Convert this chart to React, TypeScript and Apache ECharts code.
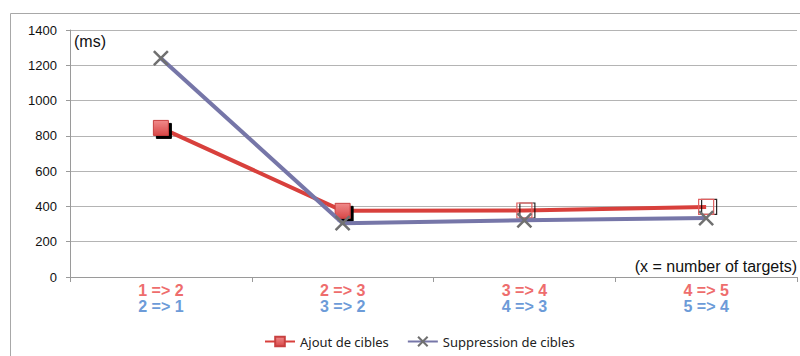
import React, { useEffect, useRef } from "react";
import * as echarts from "echarts";

const addTransitions = ["1 => 2", "2 => 3", "3 => 4", "4 => 5"];
const removeTransitions = ["2 => 1", "3 => 2", "4 => 3", "5 => 4"];
const ajoutValues = [845, 375, 377, 397];
const suppressionValues = [1240, 305, 321, 334];
const yTicks = [0, 200, 400, 600, 800, 1000, 1200, 1400];
const seriesNames = ["Ajout de cibles", "Suppression de cibles"];

const FONT = "'Liberation Sans', Arial, sans-serif";

export default function App() {
  const ref = useRef<HTMLDivElement>(null);
  useEffect(() => {
    const chart = echarts.init(ref.current!, null, { renderer: "svg" });
    const redFill = new echarts.graphic.LinearGradient(0, 0, 0, 1, [
      { offset: 0, color: "#F08A8A" },
      { offset: 1, color: "#D84848" },
    ]);
    chart.setOption({
      animation: false,
      backgroundColor: "#ffffff",
      textStyle: { fontFamily: FONT },
      grid: { left: 70, right: 3, top: 30, bottom: 79, containLabel: false },
      legend: {
        left: 259,
        top: 330,
        itemWidth: 30,
        itemHeight: 12,
        itemGap: 18,
        textStyle: { fontSize: 13, color: "#222", fontFamily: "'Noto Sans', Arial, sans-serif" },
        data: seriesNames,
      },
      xAxis: {
        type: "category",
        data: addTransitions.map((a, i) => a + "|" + removeTransitions[i]),
        boundaryGap: true,
        axisLine: { lineStyle: { color: "#9A9A9A", width: 1 } },
        axisTick: { show: true, length: 5, lineStyle: { color: "#9A9A9A" } },
        axisLabel: {
          margin: 5,
          interval: 0,
          formatter: (v: string) => {
            const [a, b] = v.split("|");
            return "{a|" + a + "}\n{b|" + b + "}";
          },
          rich: {
            a: { color: "#EE6D6D", fontSize: 16, fontWeight: "bold", lineHeight: 16, fontFamily: FONT },
            b: { color: "#6C9BD8", fontSize: 16, fontWeight: "bold", lineHeight: 16, fontFamily: FONT },
          },
        },
        splitLine: { show: false },
      },
      yAxis: {
        type: "value",
        min: yTicks[0],
        max: yTicks[yTicks.length - 1],
        interval: 200,
        axisLine: { show: true, lineStyle: { color: "#9A9A9A" } },
        axisTick: { show: true, length: 4, lineStyle: { color: "#9A9A9A" } },
        axisLabel: {
          color: "#111",
          fontSize: 13,
          margin: 13,
          fontFamily: FONT,
          formatter: (v: number) => String(v),
        },
        splitLine: { lineStyle: { color: "#B4B4B4", width: 1 } },
      },
      graphic: [
        {
          type: "rect",
          shape: { x: 10.5, y: 13.5, width: 800, height: 400 },
          style: { fill: "none", stroke: "#A8A8A8", lineWidth: 1 },
          silent: true,
          z: -1,
        },
        {
          type: "text",
          left: 74,
          top: 33,
          style: { text: "(ms)", fontSize: 16, fill: "#111", fontFamily: FONT },
        },
        {
          type: "text",
          right: 3,
          top: 258,
          style: { text: "(x = number of targets)", fontSize: 16, fill: "#111", fontFamily: FONT },
        },
      ],
      series: [
        {
          name: seriesNames[1],
          type: "line",
          data: suppressionValues,
          symbol: "path://M0,0L10,10M10,0L0,10",
          symbolSize: 14,
          z: 3,
          lineStyle: { color: "#7676A8", width: 4 },
          itemStyle: {
            color: "#7676A8",
            borderColor: "#707070",
            borderWidth: 2.5,
          },
        },
        {
          name: seriesNames[0],
          type: "line",
          data: ajoutValues.map((v, i) =>
            i < 2
              ? { value: v }
              : {
                  value: v,
                  itemStyle: {
                    color: "rgba(255,255,255,0)",
                    borderColor: "#E06060",
                    borderWidth: 1.2,
                    shadowColor: "rgba(0,0,0,0.85)",
                    shadowOffsetX: 3,
                    shadowOffsetY: 0,
                  },
                }
          ),
          symbol: "rect",
          symbolSize: 15,
          z: 2,
          lineStyle: { color: "#D8403C", width: 4 },
          itemStyle: {
            color: redFill,
            borderColor: "#C84040",
            borderWidth: 1,
            shadowColor: "#000000",
            shadowBlur: 0,
            shadowOffsetX: 3,
            shadowOffsetY: 3,
          },
        },
      ],
    });
    return () => chart.dispose();
  }, []);
  return (
    <div
      ref={ref}
      style={{ position: "fixed", left: 0, top: 0, width: 800, height: 356 }}
    />
  );
}
